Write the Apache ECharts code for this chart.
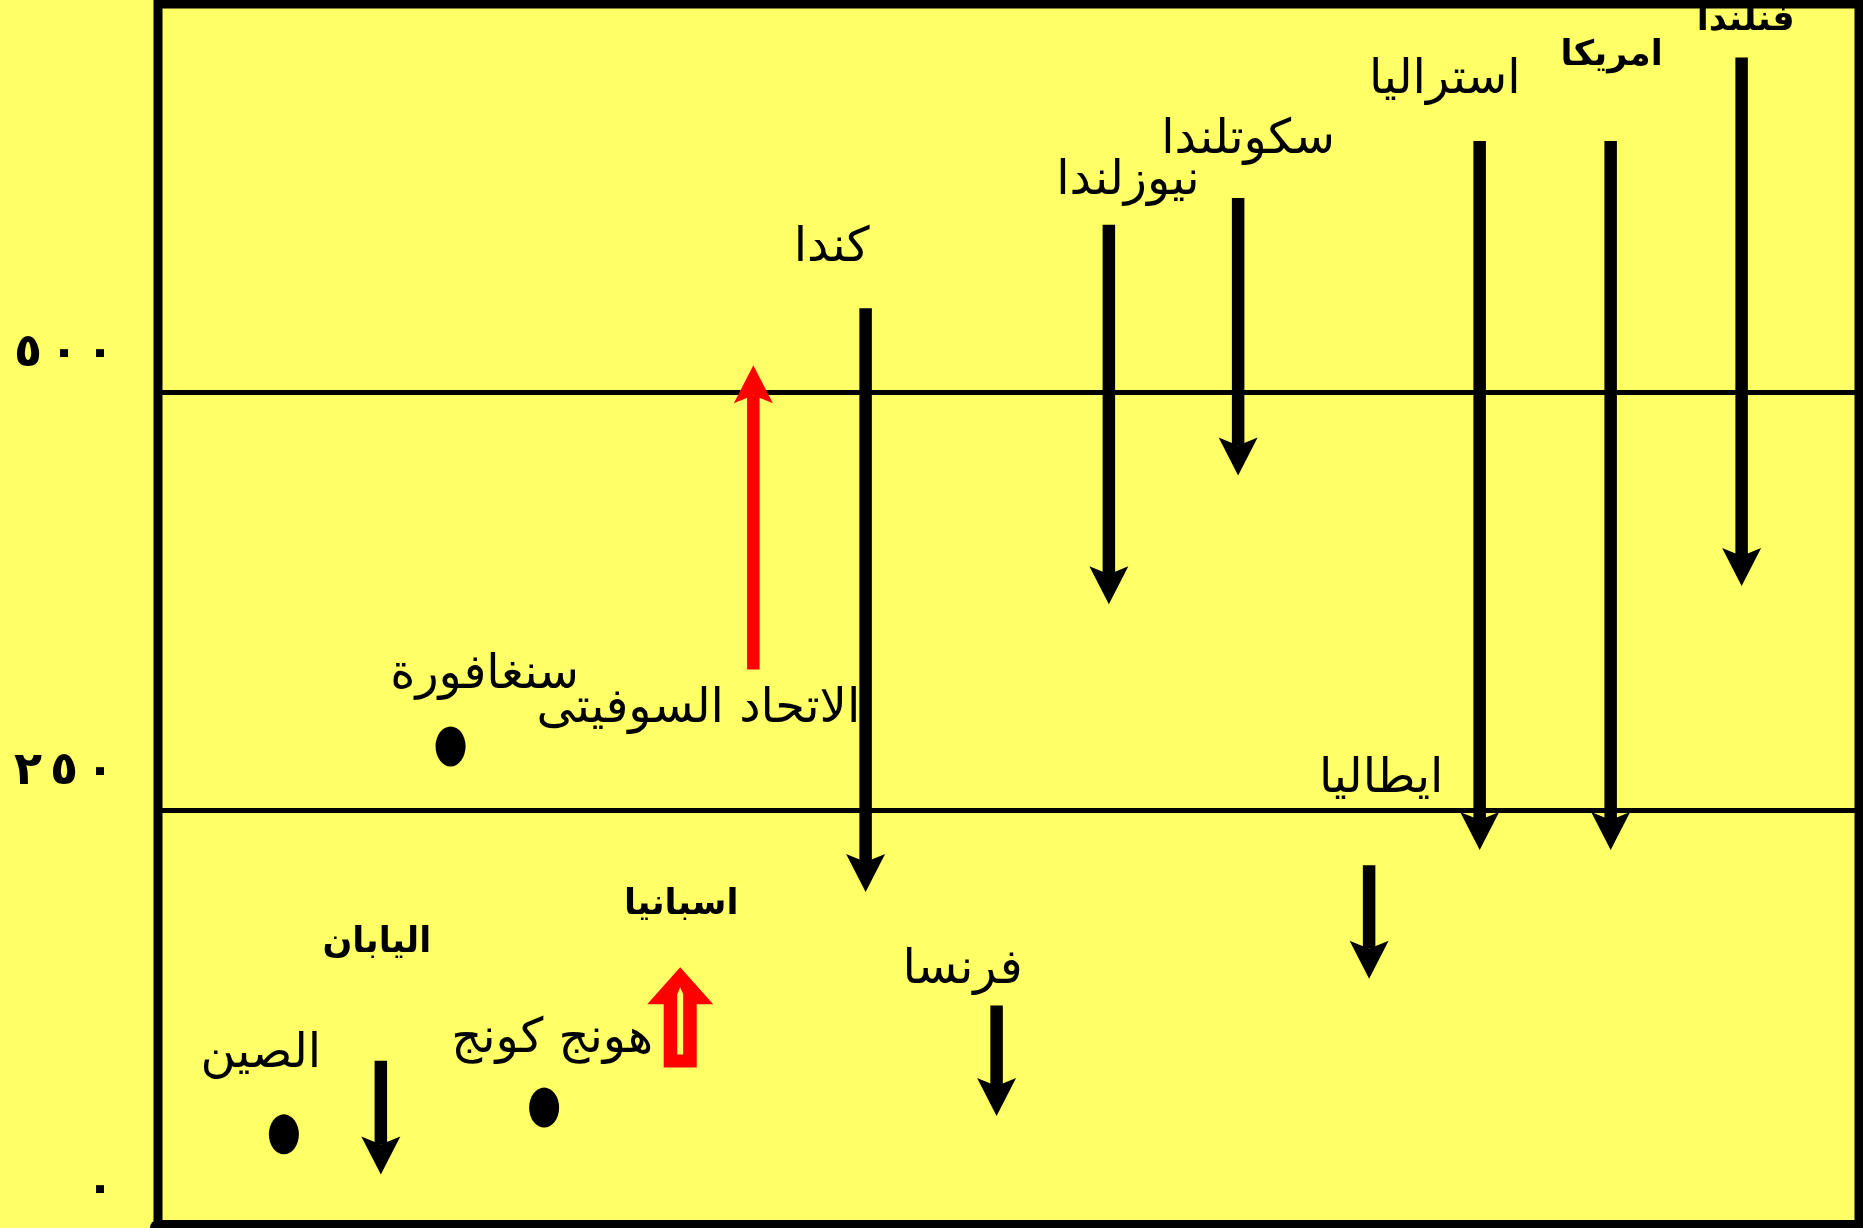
<!DOCTYPE html>
<html><head><meta charset="utf-8">
<script src="https://cdn.jsdelivr.net/npm/echarts@6/dist/echarts.min.js"></script>
<style>html,body{margin:0;padding:0;background:#FFFF66;overflow:hidden;}#c{width:1863px;height:1228px;}</style>
</head><body><div id="c"></div>
<script>
// ---- data ----
const arrowCountries = ['كندا','نيوزلندا','سكوتلندا','استراليا','امريكا','فنلندا','ايطاليا','فرنسا','اليابان','الاتحاد السوفيتى','اسبانيا'];
const arrowX    = [41.6, 55.9, 63.5, 77.7, 85.4, 93.1, 71.2, 49.3, 13.1, 35.0, 30.7];
const fromValue = [550, 600, 616, 650, 650, 700, 217, 133, 100, 334, 96];
const toValue   = [201, 373, 450, 226, 226, 384, 149, 67, 32, 516, 156];

const dotCountries = ['الصين','هونج كونج','سنغافورة'];
const dotX     = [7.4, 22.7, 17.2];
const dotValue = [56, 72, 288];

const yTicks = [0, 250, 500];

// ---- layout / style ----
const FONT = "'DejaVu Sans', sans-serif";
const labelLayout = {
  'كندا': [-34, -60], 'نيوزلندا': [19, -43], 'سكوتلندا': [10, -57], 'استراليا': [-35, -61],
  'امريكا': [1, -85], 'فنلندا': [4, -37], 'ايطاليا': [12, -86], 'فرنسا': [-34, -35],
  'اليابان': [-4, -118], 'الاتحاد السوفيتى': [-55, 40], 'اسبانيا': [1, -163],
  'الصين': [-23, -80], 'هونج كونج': [8, -68], 'سنغافورة': [34, -71]
};
const boldNames = new Set(['امريكا','فنلندا','اسبانيا','اليابان']);
const arrowStyle = { 'الاتحاد السوفيتى': {color: '#FF0000'}, 'اسبانيا': {color: '#FF0000', hollow: true} };
const arabicDigits = v => String(v).replace(/\d/g, d => '٠١٢٣٤٥٦٧٨٩'[d]).split('');

function textEl(name, x, y) {
  const bold = boldNames.has(name);
  return {type: 'text', x: x, y: y, z2: 10, style: {
    text: name, align: 'center', verticalAlign: 'middle', fill: '#000',
    fontFamily: FONT, fontWeight: bold ? 'bold' : 'normal', fontSize: bold ? 35 : 48
  }};
}

function renderArrow(params, api) {
  const i = api.value(3);
  const name = arrowCountries[i];
  const p0 = api.coord([api.value(0), api.value(1)]);
  const p1 = api.coord([api.value(0), api.value(2)]);
  const x = p0[0];
  const dir = p1[1] > p0[1] ? 1 : -1;
  const st = arrowStyle[name] || {};
  const color = st.color || '#000';
  const children = [];
  if (st.hollow) {
    const headLen = 37, hw = 33, sw = 16.5;
    const baseY = p1[1] - dir * headLen;
    children.push({type: 'polygon', shape: {points: [
      [x, p1[1]], [x + hw, baseY], [x + sw, baseY], [x + sw, p0[1]],
      [x - sw, p0[1]], [x - sw, baseY], [x - hw, baseY]
    ]}, style: {fill: color}});
    const iTop = p1[1] - dir * 20, iBot = p0[1] + dir * 13;
    children.push({type: 'polygon', shape: {points: [
      [x, iTop], [x + 3, iTop - dir * 7], [x + 3, iBot], [x - 3, iBot], [x - 3, iTop - dir * 7]
    ]}, style: {fill: '#FFFF66'}});
  } else {
    const headLen = 38, hw = 19.5, notch = 8, sw = 12.5;
    const baseY = p1[1] - dir * headLen;
    const notchY = p1[1] - dir * (headLen - notch);
    children.push({type: 'rect', shape: {x: x - sw / 2, y: Math.min(p0[1], notchY), width: sw, height: Math.abs(notchY - p0[1])}, style: {fill: color}});
    children.push({type: 'polygon', shape: {points: [[x, p1[1]], [x - hw, baseY], [x, notchY], [x + hw, baseY]]}, style: {fill: color}});
  }
  const lo = labelLayout[name];
  children.push(textEl(name, x + lo[0], p0[1] + lo[1]));
  return {type: 'group', children: children};
}

const chart = echarts.init(document.getElementById('c'), null, {renderer: 'canvas'});
chart.setOption({
  backgroundColor: '#FFFF66',
  animation: false,
  grid: {left: 158, right: 4, top: 4, bottom: 0, outerBoundsMode: 'none', containLabel: false,
    show: true, borderColor: '#000', borderWidth: 9, backgroundColor: 'transparent'},
  xAxis: {type: 'value', min: 0, max: 100, axisLine: {show: true, onZero: false, lineStyle: {color: '#000', width: 16}},
    axisTick: {show: false}, axisLabel: {show: false}, splitLine: {show: false}},
  yAxis: {type: 'value', min: 0, max: 732, interval: 250,
    axisLine: {show: false}, axisTick: {show: false},
    splitLine: {show: true, lineStyle: {color: '#000', width: 5}},
    axisLabel: {showMaxLabel: false, margin: 40, verticalAlign: 'middle', color: '#000',
      formatter: v => yTicks.indexOf(v) >= 0
        ? arabicDigits(v).map(d => '{a|' + d + '}').join('') + '\n{s| }' : '',
      rich: {
        a: {fontFamily: FONT, fontWeight: 'bold', fontSize: 46, lineHeight: 46, width: 36, align: 'center', color: '#000'},
        s: {fontSize: 10, lineHeight: 76}
      }}},
  series: [
    {type: 'custom', renderItem: renderArrow, clip: false, z: 5,
     data: arrowCountries.map((n, i) => [arrowX[i], fromValue[i], toValue[i], i])},
    {type: 'scatter', symbol: 'circle', symbolSize: [30, 40], itemStyle: {color: '#000', opacity: 1}, z: 5,
     label: {show: true, position: 'inside', formatter: '{b}', color: '#000', fontFamily: FONT, fontSize: 48},
     data: dotCountries.map((n, i) => ({name: n, value: [dotX[i], dotValue[i]],
       label: {offset: labelLayout[n]}}))}
  ]
});
</script>
</body></html>
